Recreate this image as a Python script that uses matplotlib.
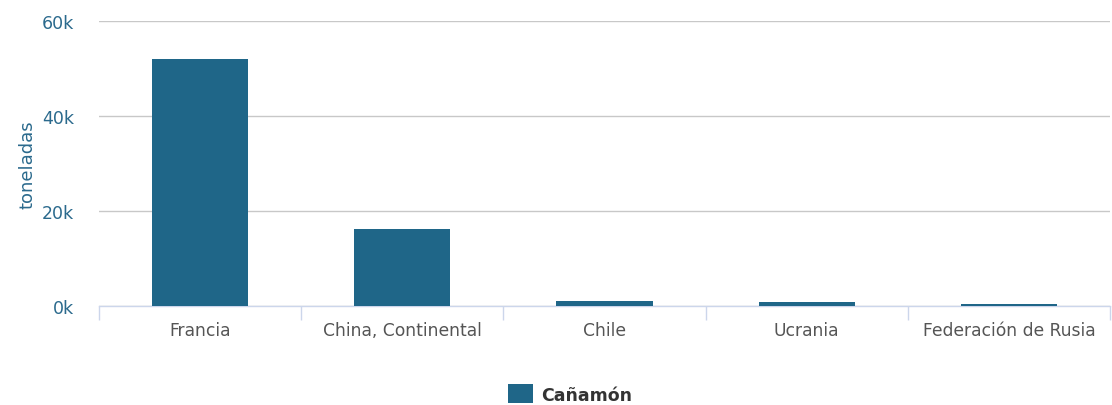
import matplotlib.pyplot as plt
import numpy as np

paises = ['Francia', 'China, Continental', 'Chile', 'Ucrania', 'Federación de Rusia']
toneladas = [52100, 16200, 1150, 750, 400]
serie = 'Cañamón'
yticks = [0, 20000, 40000, 60000]
ytick_labels = ['0k', '20k', '40k', '60k']

color_barra = '#1f6688'
color_eje = '#2b6a8d'

fig = plt.figure(figsize=(11.12, 4.06), dpi=100)
ax = fig.add_axes([99 / 1112, 99 / 406, 1011 / 1112, 285 / 406])

x = np.arange(len(paises))
ax.bar(x, toneladas, width=0.475, color=color_barra, zorder=3, label=serie)

ax.set_xlim(-0.5, len(paises) - 0.5)
ax.set_ylim(0, 60000)
ax.set_yticks(yticks)
ax.set_yticklabels(ytick_labels, fontsize=12.5, color=color_eje)
ax.yaxis.grid(True, color='#c8c8c8', linewidth=1, zorder=0)
ax.tick_params(axis='y', length=0, pad=18)

# etiquetas centradas, ticks en los limites de categoria
ax.set_xticks(x)
ax.set_xticklabels(paises, fontsize=12.3, color='#555555')
ax.tick_params(axis='x', length=0, pad=11)
ax.set_xticks(np.arange(len(paises) + 1) - 0.5, minor=True)
ax.tick_params(axis='x', which='minor', length=10, color='#ccd6eb', width=1)

for s in ['top', 'right', 'left']:
    ax.spines[s].set_visible(False)
ax.spines['bottom'].set_color('#ccd6eb')
ax.spines['bottom'].set_linewidth(1)

ax.set_ylabel('toneladas', fontsize=13, color=color_eje, labelpad=4)

leg = fig.legend(loc='lower center', bbox_to_anchor=(0.513, -0.035), frameon=False,
                 prop={'size': 12.5, 'weight': 'bold'}, handlelength=1.4, handleheight=1.3,
                 handletextpad=0.5)
for t in leg.get_texts():
    t.set_color('#333333')

fig.savefig('out.png', dpi=100)
